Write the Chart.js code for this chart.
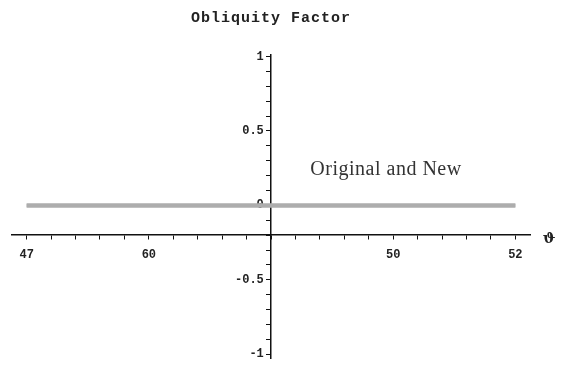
<!DOCTYPE html>
<html>
<head>
<meta charset="utf-8">
<script src="https://cdn.jsdelivr.net/npm/chart.js@4"></script>
<style>
  html, body { margin: 0; padding: 0; background: #fff; }
  #wrap { width: 562px; height: 369px; }
</style>
</head>
<body>
<div id="wrap"><canvas id="grafico"></canvas></div>
<script>
// dados
const xPontos = [-2, 2];
const original = [0, 0];
const novo = [0, 0];

// rótulos dos eixos
const xTickValores = [-2, -1, 1, 2];
const xTickTextos = ['47', '60', '50', '52'];
const yTickValores = [1, 0.5, 0, -0.5, -1];
const yTickTextos = ['1', '0.5', '0', '-0.5', '-1'];

const titulo = 'Obliquity Factor';
const legenda = 'Original and New';
const eixoX = 'ϑ';

const fonteTicks = { family: 'Liberation Mono', size: 12, weight: 'bold' };

// marcas menores de 0.2 em 0.2 no x e de 0.1 em 0.1 no y
const xMarcas = [];
for (let i = -10; i <= 10; i++) xMarcas.push(i / 5);
const yMarcas = [];
for (let i = -10; i <= 10; i++) yMarcas.push(i / 10);

function rotulo(valores, textos, v) {
    const i = valores.findIndex(t => Math.abs(t - v) < 1e-6);
    return i >= 0 ? textos[i] : '';
}

const textos = {
    id: 'textos',
    afterDraw(chart) {
        const ctx = chart.ctx;
        ctx.save();
        ctx.fillStyle = '#222';
        ctx.textAlign = 'center';
        ctx.textBaseline = 'middle';
        ctx.font = 'bold 15px "Liberation Mono"';
        ctx.letterSpacing = '1px';
        ctx.fillText(titulo, 271, 18);

        ctx.font = '20px "Liberation Serif"';
        ctx.letterSpacing = '0.5px';
        ctx.fillStyle = '#333';
        ctx.fillText(legenda, 386, 170);

        ctx.letterSpacing = '0px';
        ctx.font = 'bold 15px "DejaVu Serif"';
        ctx.fillStyle = '#222';
        ctx.fillText(eixoX, 549, 239);
        ctx.restore();
    }
};

new Chart(document.getElementById('grafico'), {
    type: 'line',
    data: {
        datasets: [
            {
                label: 'Original',
                data: xPontos.map((x, i) => ({ x, y: original[i] })),
                borderColor: '#adadad',
                borderWidth: 4,
                pointRadius: 0
            },
            {
                label: 'New',
                data: xPontos.map((x, i) => ({ x, y: novo[i] })),
                borderColor: '#adadad',
                borderWidth: 4,
                pointRadius: 0
            }
        ]
    },
    options: {
        responsive: true,
        maintainAspectRatio: false,
        animation: false,
        layout: { padding: { left: 12, right: 32, top: 55, bottom: 9 } },
        plugins: { legend: { display: false }, title: { display: false }, tooltip: { enabled: false } },
        scales: {
            x: {
                type: 'linear',
                min: -2.12,
                max: 2.12,
                position: { y: -0.2 },
                afterBuildTicks: axis => { axis.ticks = xMarcas.map(v => ({ value: v })); },
                grid: { drawOnChartArea: false, tickLength: 4, color: '#111', lineWidth: 1 },
                border: { color: '#111', width: 1.5 },
                ticks: {
                    autoSkip: false,
                    maxRotation: 0,
                    padding: 9,
                    color: '#222',
                    font: fonteTicks,
                    callback: v => rotulo(xTickValores, xTickTextos, v)
                }
            },
            y: {
                type: 'linear',
                min: -1.03,
                max: 1.01,
                position: { x: 0 },
                afterBuildTicks: axis => { axis.ticks = yMarcas.map(v => ({ value: v })); },
                grid: { drawOnChartArea: false, tickLength: 4, color: '#111', lineWidth: 1 },
                border: { color: '#111', width: 1.5 },
                ticks: {
                    autoSkip: false,
                    color: '#222',
                    font: fonteTicks,
                    // espaço no fim afasta o rótulo do eixo
                    callback: v => {
                        const t = rotulo(yTickValores, yTickTextos, v);
                        return t ? t + ' ' : '';
                    }
                }
            }
        }
    },
    plugins: [textos]
});
</script>
</body>
</html>
